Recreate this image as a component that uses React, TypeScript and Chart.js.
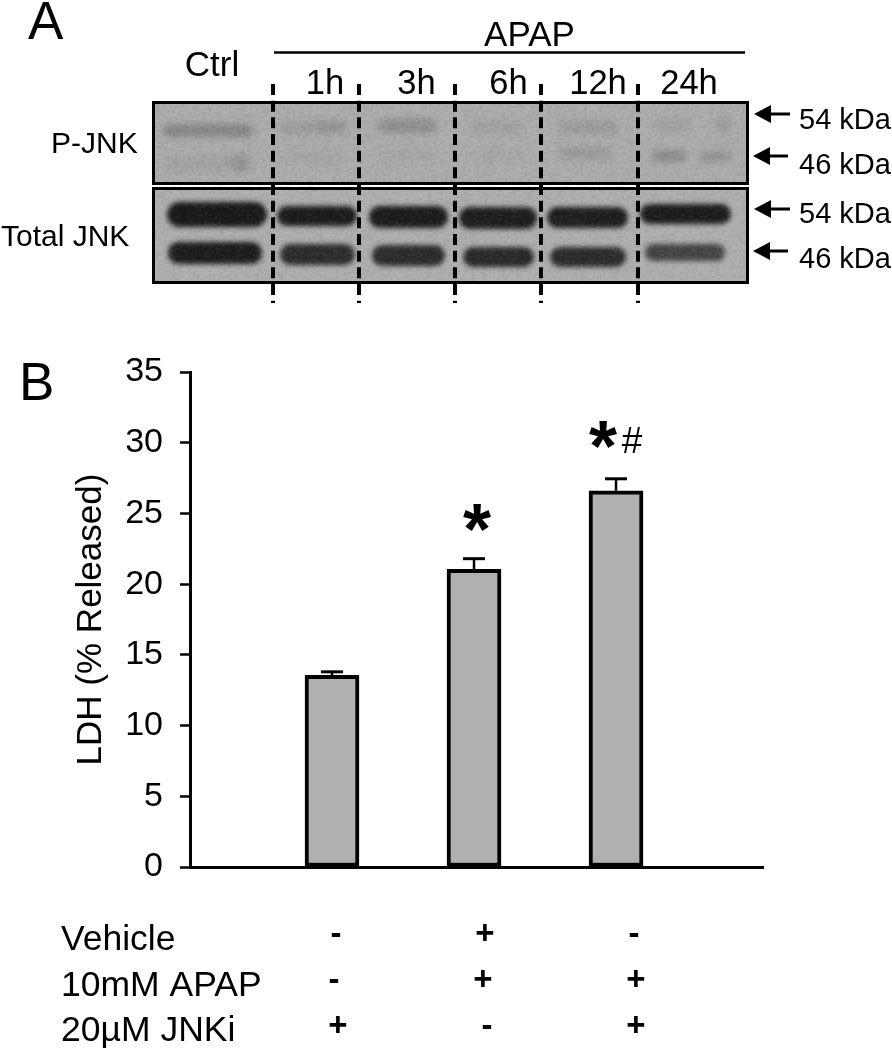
import React, { useEffect, useRef } from "react";
import { Chart, registerables } from "chart.js";

Chart.register(...registerables);

const FONT = '"Liberation Sans", Arial, sans-serif';

// Panel B data
const conditionPositions = [1, 2, 3];
const ldhValues = [13.55, 21.05, 26.6];
const ldhErrors = [0.25, 0.75, 0.85];
const yTicks = [0, 5, 10, 15, 20, 25, 30, 35];
const conditionRows = ["Vehicle", "10mM APAP", "20µM JNKi"];
const vehicleSigns = ["-", "+", "-"];
const apapSigns = ["-", "+", "+"];
const jnkiSigns = ["+", "-", "+"];

// Panel A labels
const timeLabels = ["1h", "3h", "6h", "12h", "24h"];
const blotRows = ["P-JNK", "Total JNK"];
const kdaLabels = ["54 kDa", "46 kDa", "54 kDa", "46 kDa"];

type Band = [number, number, number, number, string];
// Western-blot picture: x0, x1, y0, y1, colour
const faintBands: Band[] = [
  [163, 253, 124, 137, "rgba(40,40,40,.28)"],
  [165, 250, 156, 172, "rgba(40,40,40,.07)"],
  [232, 250, 152, 172, "rgba(40,40,40,.10)"],
  [280, 346, 122, 134, "rgba(40,40,40,.13)"],
  [318, 345, 119, 131, "rgba(40,40,40,.07)"],
  [378, 436, 119, 133, "rgba(40,40,40,.22)"],
  [285, 345, 150, 164, "rgba(40,40,40,.035)"],
  [378, 436, 148, 162, "rgba(40,40,40,.04)"],
  [470, 522, 121, 134, "rgba(40,40,40,.09)"],
  [472, 522, 150, 162, "rgba(40,40,40,.04)"],
  [559, 617, 121, 134, "rgba(40,40,40,.12)"],
  [559, 612, 147, 160, "rgba(40,40,40,.12)"],
  [654, 690, 118, 131, "rgba(40,40,40,.08)"],
  [716, 732, 118, 132, "rgba(40,40,40,.12)"],
  [652, 686, 150, 162, "rgba(40,40,40,.24)"],
  [700, 731, 151, 162, "rgba(40,40,40,.18)"],
];
const darkBands: Band[] = [
  [167, 267, 202, 227, "#1a1a1a"],
  [277, 357, 206, 226, "#1c1c1c"],
  [369, 448, 206, 228, "#1c1c1c"],
  [459, 537, 207, 229, "#1e1e1e"],
  [547, 628, 207, 228, "#1e1e1e"],
  [640, 731, 204, 224, "#1c1c1c"],
  [168, 262, 242, 264, "#1c1c1c"],
  [280, 355, 244, 265, "#2c2c2c"],
  [372, 445, 245, 266, "#2c2c2c"],
  [463, 534, 247, 267, "#2a2a2a"],
  [550, 626, 247, 267, "#2c2c2c"],
  [645, 725, 244, 261, "#444444"],
];

const laneDividers = [273, 359, 455, 541, 638];
const timeLabelCentres = [325, 416.5, 508.5, 598, 689];
const kdaBaselines = [129, 174, 223, 268];
const arrowSpots: [number, number, number][] = [
  [754, 790, 114],
  [753, 788, 156],
  [754, 790, 209],
  [753, 788, 251],
];
const rowLabelSpots: [number, number][] = [[51, 153], [1, 246]];
const signColumns = [
  [336, 485, 634],
  [334, 483, 636],
  [338, 487, 636],
];
const signBaselines = [944, 990, 1036];

const text = (
  c: CanvasRenderingContext2D,
  s: string,
  x: number,
  y: number,
  size: number,
  align: CanvasTextAlign = "left",
  bold = false
) => {
  c.font = `${bold ? "bold " : ""}${size}px ${FONT}`;
  c.textAlign = align;
  c.textBaseline = "alphabetic";
  c.fillStyle = "#000";
  c.fillText(s, x, y);
};

// fixed film-grain shade for the blot picture (a hash of the cell, not data)
const grain = (x: number, y: number) => {
  const h = Math.sin(x * 12.9898 + y * 78.233) * 43758.5453;
  return h - Math.floor(h);
};

const figurePlugin = {
  id: "figure",
  beforeDraw(chart: any) {
    const c: CanvasRenderingContext2D = chart.ctx;
    c.save();
    c.fillStyle = "#fff";
    c.fillRect(0, 0, 892, 1050);

    // panel A: blots
    c.fillStyle = "#acacac";
    c.fillRect(153, 102, 595, 82);
    c.fillStyle = "#aeaeae";
    c.fillRect(153, 188, 595, 95);
    const drawBands = (list: Band[], blur: number) => {
      c.save();
      c.beginPath();
      c.rect(153, 102, 595, 181);
      c.clip();
      c.filter = `blur(${blur}px)`;
      list.forEach(([x0, x1, y0, y1, col]) => {
        c.fillStyle = col;
        c.beginPath();
        c.roundRect(x0, y0, x1 - x0, y1 - y0, (y1 - y0) / 2);
        c.fill();
      });
      c.restore();
    };
    drawBands(faintBands, 3);
    drawBands(darkBands, 2.4);
    for (let y = 102; y < 283; y += 2) {
      for (let x = 153; x < 748; x += 2) {
        const g = grain(x, y);
        c.fillStyle = g > 0.5 ? `rgba(255,255,255,${(g - 0.5) * 0.1})` : `rgba(0,0,0,${(0.5 - g) * 0.1})`;
        c.fillRect(x, y, 2, 2);
      }
    }

    c.strokeStyle = "#000";
    c.lineWidth = 3;
    c.strokeRect(153.5, 102.5, 594, 81);
    c.strokeRect(153.5, 188.5, 594, 94);

    c.lineWidth = 4;
    c.setLineDash([11, 5.67]);
    laneDividers.forEach((x) => {
      c.beginPath();
      c.moveTo(x, 84);
      c.lineTo(x, 303);
      c.stroke();
    });
    c.setLineDash([]);

    c.lineWidth = 2.5;
    c.beginPath();
    c.moveTo(274, 52.5);
    c.lineTo(745, 52.5);
    c.stroke();

    arrowSpots.forEach(([head, tail, y]) => {
      c.lineWidth = 3;
      c.beginPath();
      c.moveTo(head + 10, y);
      c.lineTo(tail, y);
      c.stroke();
      c.fillStyle = "#000";
      c.beginPath();
      c.moveTo(head, y);
      c.lineTo(head + 17, y - 9);
      c.lineTo(head + 17, y + 9);
      c.closePath();
      c.fill();
    });

    text(c, "A", 28, 39, 53);
    text(c, "B", 19, 400, 53);
    text(c, "APAP", 529.5, 46, 35, "center");
    text(c, "Ctrl", 212, 76, 35, "center");
    timeLabels.forEach((t, i) => text(c, t, timeLabelCentres[i], 94, 34.5, "center"));
    blotRows.forEach((t, i) => text(c, t, rowLabelSpots[i][0], rowLabelSpots[i][1], 30));
    kdaLabels.forEach((t, i) => text(c, t, 799, kdaBaselines[i], 29));

    // panel B: condition table
    conditionRows.forEach((t, i) => text(c, t, 61, [950, 996, 1041][i], 35.5));
    [vehicleSigns, apapSigns, jnkiSigns].forEach((row, r) =>
      row.forEach((s, i) => text(c, s, signColumns[r][i], signBaselines[r], 33, "center", true))
    );
    c.restore();
  },
  afterDatasetsDraw(chart: any) {
    const c: CanvasRenderingContext2D = chart.ctx;
    const xs = chart.scales.x;
    const ys = chart.scales.y;
    c.save();
    c.strokeStyle = "#000";
    conditionPositions.forEach((p, i) => {
      const x = xs.getPixelForValue(p);
      const top = ys.getPixelForValue(ldhValues[i]);
      const capY = ys.getPixelForValue(ldhValues[i] + ldhErrors[i]);
      c.lineWidth = 2.5;
      c.beginPath();
      c.moveTo(x, top);
      c.lineTo(x, capY);
      c.stroke();
      c.lineWidth = 3;
      c.beginPath();
      c.moveTo(x - 11, capY);
      c.lineTo(x + 11, capY);
      c.stroke();
    });
    const x2 = xs.getPixelForValue(conditionPositions[1]);
    const x3 = xs.getPixelForValue(conditionPositions[2]);
    const y2 = ys.getPixelForValue(ldhValues[1] + ldhErrors[1]);
    const y3 = ys.getPixelForValue(ldhValues[2] + ldhErrors[2]);
    text(c, "*", x2 + 3, y2 - 5, 72, "center", true);
    text(c, "*", x3 - 13, y3 - 8, 72, "center", true);
    text(c, "#", x3 + 16, y3 - 26, 37, "center");
    c.restore();
  },
};

export default function App() {
  const ref = useRef<HTMLCanvasElement>(null);
  useEffect(() => {
    const chart = new Chart(ref.current!, {
      type: "bar",
      data: {
        datasets: [
          {
            data: conditionPositions.map((x, i) => ({ x, y: ldhValues[i] })),
            backgroundColor: "#b0b0b0",
            borderColor: "#000",
            borderWidth: 4,
            borderSkipped: false,
            barThickness: 54,
          },
        ],
      },
      options: {
        responsive: false,
        animation: false,
        events: [],
        layout: { padding: { top: 372, bottom: 0, left: 0, right: 129 } },
        plugins: { legend: { display: false }, tooltip: { enabled: false } },
        scales: {
          x: {
            type: "linear",
            offset: false,
            min: 0,
            max: 4.035,
            ticks: { display: false },
            grid: { display: false },
            border: { color: "#000", width: 3 },
            afterFit: (s: any) => {
              s.height = 183;
            },
          },
          y: {
            min: 0,
            max: 35,
            afterBuildTicks: (s: any) => {
              s.ticks = yTicks.map((value) => ({ value }));
            },
            ticks: {
              color: "#000",
              padding: 17,
              font: { family: FONT, size: 34 },
            },
            grid: {
              drawOnChartArea: false,
              drawTicks: true,
              tickLength: 10,
              tickWidth: 2.5,
              tickColor: "#000",
            },
            border: { color: "#000", width: 3 },
            title: {
              display: true,
              text: "LDH (% Released)",
              color: "#000",
              font: { family: FONT, size: 35 },
              padding: { top: 70, bottom: 0 },
            },
            afterFit: (s: any) => {
              s.width = 190;
            },
          },
        },
      },
      plugins: [figurePlugin],
    } as any);
    return () => chart.destroy();
  }, []);
  return (
    <div style={{ position: "absolute", left: 0, top: 0 }}>
      <canvas ref={ref} width={892} height={1050} style={{ display: "block", filter: "blur(0.5px)" }} />
    </div>
  );
}
